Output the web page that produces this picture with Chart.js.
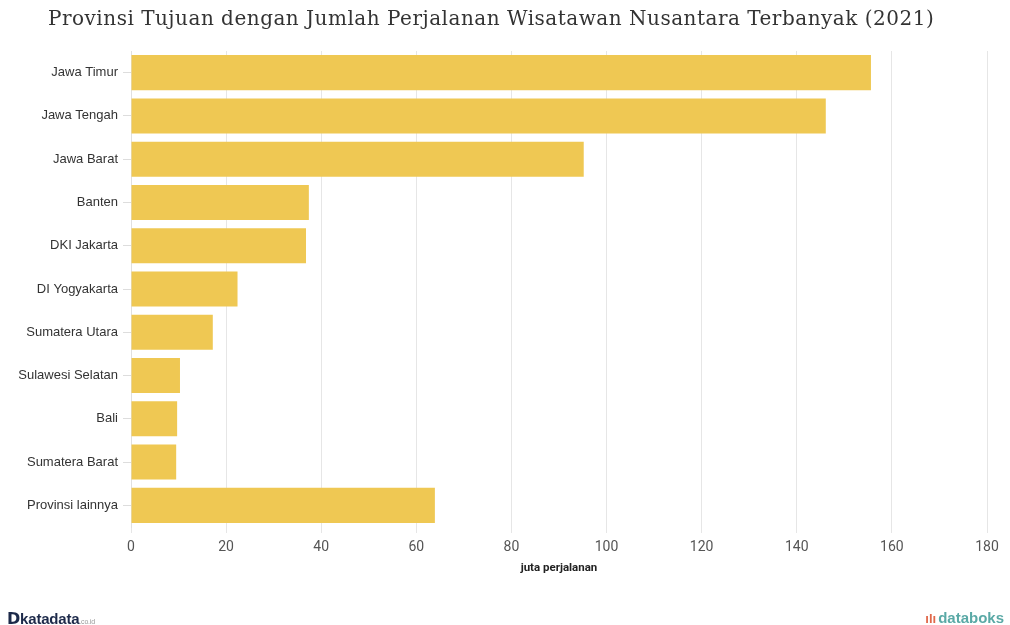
<!DOCTYPE html>
<html lang="id">
<head>
<meta charset="UTF-8">
<title>Wisatawan Nusantara 2021</title>
<script src="https://cdn.jsdelivr.net/npm/chart.js@4.4.1/dist/chart.umd.min.js"></script>
<style>
  body { margin: 0; background: #fff; }
  #wrap { position: relative; width: 1010px; height: 625px; }
  #title {
    position: absolute; left: 48px; top: 6px;
    font-family: "DejaVu Serif", serif; font-size: 20px; color: #333;
    letter-spacing: 0.5px;
  }
  #kata {
    position: absolute; left: 7px; top: 609px;
    font-family: "Liberation Sans", Arial, sans-serif; font-weight: bold;
    font-size: 15px; color: #1d2a4a; letter-spacing: -0.2px;
  }
  #kata b { font-family: "DejaVu Sans"; font-size: 16px; }
  #kata small { font-size: 7px; color: #999; font-weight: normal; }
  #boks {
    position: absolute; right: 6px; top: 609px;
    font-family: "Liberation Sans", Arial, sans-serif; font-weight: bold;
    font-size: 15px; color: #5aa9a6;
  }
  #boks span { color: #e0684a; font-size: 13px; margin-right: 2px; }
</style>
</head>
<body>
<div id="wrap">
  <canvas id="myChart" width="1010" height="625"></canvas>
  <div id="title">Provinsi Tujuan dengan Jumlah Perjalanan Wisatawan Nusantara Terbanyak (2021)</div>
  <div id="kata"><b>D</b>katadata<small>.co.id</small></div>
  <div id="boks"><span>ılı</span>databoks</div>
</div>
<script>
  // data (juta perjalanan)
  const provinsi = ['Jawa Timur', 'Jawa Tengah', 'Jawa Barat', 'Banten', 'DKI Jakarta',
    'DI Yogyakarta', 'Sumatera Utara', 'Sulawesi Selatan', 'Bali', 'Sumatera Barat', 'Provinsi lainnya'];
  const perjalanan = [155.6, 146.1, 95.2, 37.4, 36.8, 22.4, 17.2, 10.3, 9.7, 9.5, 63.9];

  const ctx = document.getElementById('myChart').getContext('2d');
  const myChart = new Chart(ctx, {
    type: 'bar',
    data: {
      labels: provinsi,
      datasets: [{
        label: 'juta perjalanan',
        data: perjalanan,
        backgroundColor: '#efc853',
        borderWidth: 0,
        barPercentage: 0.9,
        categoryPercentage: 0.9
      }]
    },
    options: {
      indexAxis: 'y',
      responsive: false,
      animation: false,
      layout: { padding: { top: 51, right: 23, bottom: 50, left: 0 } },
      plugins: { legend: { display: false }, tooltip: { enabled: false } },
      scales: {
        x: {
          min: 0, max: 180,
          ticks: { stepSize: 20, color: '#555', padding: 6,
            font: { family: 'Roboto', size: 14 } },
          grid: { color: '#e6e6e6', tickLength: 6 },
          border: { display: false },
          title: { display: true, text: 'juta perjalanan', color: '#222',
            font: { family: 'Roboto', size: 11.5, weight: 'bold' }, padding: { top: 6, bottom: 0 } },
          afterFit: (s) => { s.height = 48; }
        },
        y: {
          ticks: { color: '#333', padding: 5,
            font: { family: 'Liberation Sans', size: 13 } },
          grid: { offset: false, drawOnChartArea: false, color: '#dddddd', tickLength: 8 },
          border: { display: true, color: '#e0e0e0' },
          afterFit: (s) => { s.width = 131; }
        }
      }
    }
  });
</script>
</body>
</html>
